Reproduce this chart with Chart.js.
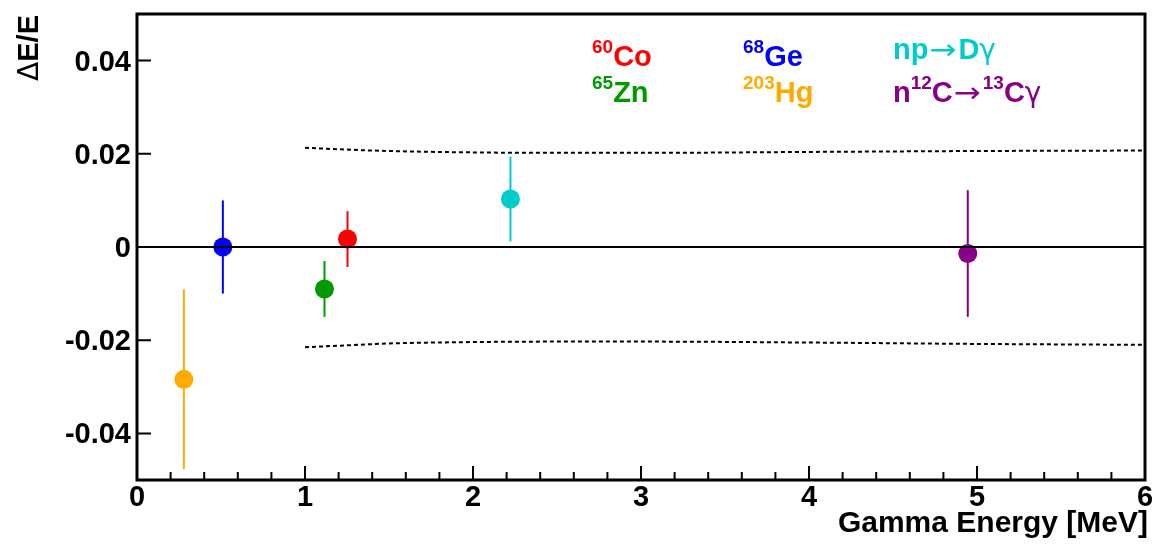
<!DOCTYPE html>
<html>
<head>
<meta charset="utf-8">
<script src="https://cdn.jsdelivr.net/npm/chart.js@4/dist/chart.umd.min.js"></script>
<style>
  body { margin: 0; background: #fff; }
  canvas { display: block; }
</style>
</head>
<body>
<canvas id="myChart" width="1155" height="551"></canvas>
<script>
// calibration sources (ROOT style labels)
const sources = ['^{203}Hg', '^{68}Ge', '^{65}Zn', '^{60}Co', 'np→Dγ', 'n^{12}C→^{13}Cγ'];
const energies = [0.279, 0.511, 1.116, 1.253, 2.223, 4.945]; // MeV
const deltas = [-0.0284, 0.0000, -0.0090, 0.0017, 0.0103, -0.0014];
const errors = [0.0193, 0.0100, 0.0060, 0.0060, 0.0091, 0.0136];
const colors = ['#ffaa00', '#0000ff', '#009900', '#ff0000', '#00cccc', '#880088'];

// systematic band (dotted curves)
const bandEnergies = [1, 1.25, 1.5, 2, 2.5, 3, 4, 5, 6];
const bandUpper = [0.0213, 0.0209, 0.0206, 0.0203, 0.0202, 0.0202, 0.0204, 0.0206, 0.0207];
const bandLower = [-0.0215, -0.0211, -0.0207, -0.0204, -0.0203, -0.0203, -0.0205, -0.0208, -0.0210];

const xTicks = [0, 1, 2, 3, 4, 5, 6];
const yTicks = [-0.04, -0.02, 0, 0.02, 0.04];
const xTitle = 'Gamma Energy [MeV]';
const yTitle = ['Δ', 'E/E'];

const FONT = '"Liberation Sans", Arial, Helvetica, sans-serif';
const SYM = '"DejaVu Sans", sans-serif';

// legend placement: [source index, x, baseline]
const legendSlots = [
    [3, 592, 66], [2, 592, 102],
    [1, 743, 66], [0, 743, 102],
    [4, 893, 59], [5, 893, 102]
];

function drawRootText(ctx, label, x, y, color) {
    const parts = label.match(/\^\{[^}]*\}|[→γ]|[^\^→γ]+/g);
    ctx.fillStyle = color;
    ctx.textAlign = 'left';
    ctx.textBaseline = 'alphabetic';
    parts.forEach(p => {
        if (p.startsWith('^{')) {
            const txt = p.slice(2, -1);
            ctx.font = 'bold 19px ' + FONT;
            ctx.fillText(txt, x, y - 13);
            x += ctx.measureText(txt).width;
        } else if (p === '→') {
            // long thin arrow, like the ROOT symbol font
            ctx.font = '28px ' + SYM;
            const w = ctx.measureText(p).width;
            ctx.save();
            ctx.translate(x + 1, y);
            ctx.scale(27 / w, 1);
            ctx.fillText(p, 0, 0);
            ctx.restore();
            x += 30;
        } else if (p === 'γ') {
            ctx.font = '28px ' + SYM;
            ctx.fillText(p, x, y);
            x += ctx.measureText(p).width;
        } else {
            ctx.font = 'bold 29px ' + FONT;
            ctx.fillText(p, x, y);
            x += ctx.measureText(p).width;
        }
    });
}

const errorBars = {
    id: 'errorBars',
    beforeDatasetsDraw(chart) {
        const ctx = chart.ctx;
        const xs = chart.scales.x, ys = chart.scales.y;
        ctx.save();
        ctx.lineWidth = 2;
        energies.forEach((e, i) => {
            const px = xs.getPixelForValue(e);
            ctx.strokeStyle = colors[i];
            ctx.beginPath();
            ctx.moveTo(px, ys.getPixelForValue(deltas[i] + errors[i]));
            ctx.lineTo(px, ys.getPixelForValue(deltas[i] - errors[i]));
            ctx.stroke();
        });
        ctx.restore();
    }
};

const rootFrame = {
    id: 'rootFrame',
    afterDraw(chart) {
        const ctx = chart.ctx;
        const a = chart.chartArea;
        const xs = chart.scales.x, ys = chart.scales.y;
        ctx.save();
        ctx.strokeStyle = '#000';

        // ticks inside the frame
        ctx.lineWidth = 2;
        ctx.beginPath();
        for (let k = 0; k <= 30; k++) {
            const px = xs.getPixelForValue(k * 0.2);
            const len = (k % 5 === 0) ? 14 : 8;
            ctx.moveTo(px, a.bottom);
            ctx.lineTo(px, a.bottom - len);
        }
        yTicks.forEach(v => {
            const py = ys.getPixelForValue(v);
            ctx.moveTo(a.left, py);
            ctx.lineTo(a.left + 14, py);
        });
        ctx.stroke();

        // frame
        ctx.lineWidth = 3;
        ctx.strokeRect(a.left, a.top, a.right - a.left, a.bottom - a.top);

        // axis titles
        ctx.fillStyle = '#000';
        ctx.font = 'bold 30px ' + FONT;
        ctx.textAlign = 'right';
        ctx.textBaseline = 'alphabetic';
        ctx.fillText(xTitle, 1148, 532);

        ctx.font = 'bold 29px ' + FONT;
        ctx.translate(38, 15);
        ctx.rotate(-Math.PI / 2);
        ctx.fillText(yTitle[1], 0, 0);
        const w = ctx.measureText(yTitle[1]).width;
        ctx.font = '28px ' + SYM;
        ctx.fillText(yTitle[0], -w, 0);
        ctx.restore();

        // legend
        ctx.save();
        legendSlots.forEach(([i, x, y]) => drawRootText(ctx, sources[i], x, y, colors[i]));
        ctx.restore();
    }
};

const ctx = document.getElementById('myChart').getContext('2d');

new Chart(ctx, {
    type: 'scatter',
    data: {
        datasets: [
            {
                type: 'line',
                data: [{ x: 0, y: 0 }, { x: 6, y: 0 }],
                borderColor: '#000',
                borderWidth: 2,
                pointRadius: 0,
                order: 0
            },
            {
                label: 'sources',
                data: energies.map((e, i) => ({ x: e, y: deltas[i] })),
                backgroundColor: colors,
                borderWidth: 0,
                pointRadius: 9.5,
                order: 1
            },
            {
                type: 'line',
                data: bandEnergies.map((e, i) => ({ x: e, y: bandUpper[i] })),
                borderColor: '#000',
                borderWidth: 2,
                borderDash: [4, 3],
                pointRadius: 0,
                cubicInterpolationMode: 'monotone',
                order: 2
            },
            {
                type: 'line',
                data: bandEnergies.map((e, i) => ({ x: e, y: bandLower[i] })),
                borderColor: '#000',
                borderWidth: 2,
                borderDash: [4, 3],
                pointRadius: 0,
                cubicInterpolationMode: 'monotone',
                order: 2
            }
        ]
    },
    options: {
        responsive: false,
        animation: false,
        devicePixelRatio: 1,
        layout: { padding: { top: 14, right: 10, left: 0, bottom: 0 } },
        plugins: { legend: { display: false }, tooltip: { enabled: false } },
        scales: {
            x: {
                type: 'linear',
                min: 0,
                max: 6,
                afterBuildTicks: s => { s.ticks = xTicks.map(v => ({ value: v })); },
                afterFit: s => { s.height = 71; s.paddingLeft = 0; s.paddingRight = 0; },
                grid: { display: false, drawTicks: false },
                border: { display: false },
                ticks: {
                    padding: 1,
                    color: '#000',
                    maxRotation: 0,
                    font: { family: FONT, size: 29, weight: 'bold' },
                    callback: v => String(v)
                }
            },
            y: {
                min: -0.05,
                max: 0.05,
                afterBuildTicks: s => { s.ticks = yTicks.map(v => ({ value: v })); },
                afterFit: s => { s.width = 137; s.paddingTop = 0; s.paddingBottom = 0; },
                grid: { display: false, drawTicks: false },
                border: { display: false },
                ticks: {
                    padding: 6,
                    labelOffset: 2,
                    color: '#000',
                    font: { family: FONT, size: 29, weight: 'bold' },
                    callback: v => Math.abs(v) < 1e-9 ? '0' : v.toFixed(2)
                }
            }
        }
    },
    plugins: [errorBars, rootFrame]
});
</script>
</body>
</html>
